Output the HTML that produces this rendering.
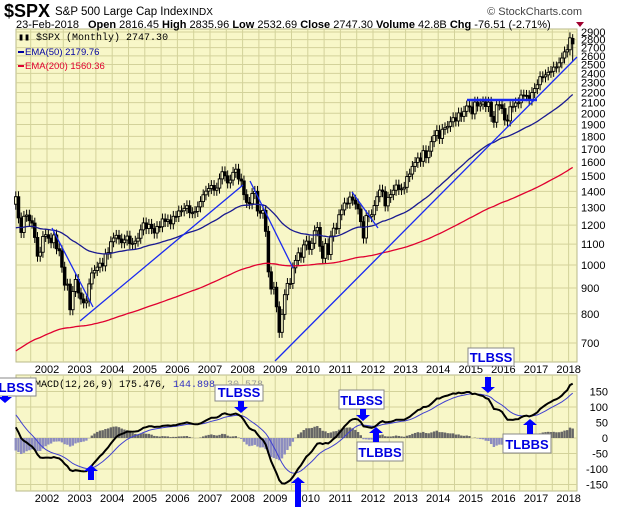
<!DOCTYPE html>
<html><head><meta charset="utf-8"><style>
body{margin:0;background:#fff;width:620px;height:507px;overflow:hidden;font-family:"Liberation Sans",sans-serif}
svg{position:absolute;left:0;top:0}
</style></head><body>
<svg id="s" width="620" height="507" xmlns="http://www.w3.org/2000/svg" font-family="Liberation Sans, sans-serif">
<rect x="16" y="29" width="561" height="333" fill="#f8f7c8" stroke="#b9b98a"/>
<rect x="16" y="375" width="561" height="116" fill="#f8f7c8" stroke="#b9b98a"/>
<g id="grid" stroke="#d3d29a" stroke-width="1"></g>
<g id="plot"></g>
<text x="4" y="17" font-size="18" font-weight="bold">$SPX</text>
<text x="55" y="15" font-size="11.5">S&amp;P 500 Large Cap Index</text>
<text x="189" y="15" font-size="10">INDX</text>
<text x="582" y="15" font-size="11" text-anchor="end" fill="#444">© StockCharts.com</text>
<text x="16" y="28" font-size="11"><tspan>23-Feb-2018</tspan><tspan x="88" font-weight="bold">Open</tspan><tspan> 2816.45 </tspan><tspan font-weight="bold">High</tspan><tspan> 2835.96 </tspan><tspan font-weight="bold">Low</tspan><tspan> 2532.69 </tspan><tspan font-weight="bold">Close</tspan><tspan> 2747.30 </tspan><tspan font-weight="bold">Volume</tspan><tspan> 42.8B </tspan><tspan font-weight="bold">Chg</tspan><tspan> -76.51 (-2.71%)</tspan></text>
<polygon points="576,22 584,22 580,27" fill="#a00030"/>
<text x="18" y="40" font-size="10" font-family="Liberation Mono, monospace">▮▮ $SPX (Monthly) 2747.30</text>
<line x1="18" y1="52" x2="24" y2="52" stroke="#0000a0" stroke-width="2"/>
<text x="25" y="55" font-size="9.5" fill="#0000a0">EMA(50) 2179.76</text>
<line x1="18" y1="66" x2="24" y2="66" stroke="#e00030" stroke-width="2"/>
<text x="25" y="69" font-size="9.5" fill="#e00030">EMA(200) 1560.36</text>
<g id="labels" font-size="11"></g>
<text x="35" y="387" font-size="10" font-family="Liberation Mono, monospace">MACD(12,26,9) 175.476,<tspan fill="#3030c0"> 144.898</tspan><tspan fill="#999">, 30.578</tspan></text>
<g id="ann"></g>
</svg>
<script>
var NS="http://www.w3.org/2000/svg";
function el(p,t,a,txt){var e=document.createElementNS(NS,t);for(var k in a)e.setAttribute(k,a[k]);if(txt!=null)e.textContent=txt;document.getElementById(p).appendChild(e);return e;}
function X(t){return 47+32.6*(t-2002);}
function Y(p){return 32+218.8*Math.log(2900/p);}
function MY(v){return 438-0.31*v;}
for(var t=2001.5;t<2018.3;t+=0.5){var x=X(t);if(x<17||x>576)continue;el("grid","line",{x1:x,y1:29,x2:x,y2:362});el("grid","line",{x1:x,y1:375,x2:x,y2:491});}
for(var p=700;p<=2900;p+=100){var y=Y(p);el("grid","line",{x1:16,y1:y,x2:577,y2:y});el("labels","text",{x:581,y:y+4},p);}
for(var v=-150;v<=150;v+=50){var y=MY(v);el("grid","line",{x1:16,y1:y,x2:577,y2:y});el("labels","text",{x:608,y:y+4,"text-anchor":"end"},v);}
for(var yr=2002;yr<=2018;yr++){el("labels","text",{x:X(yr),y:373,"text-anchor":"middle"},yr);el("labels","text",{x:X(yr),y:502,"text-anchor":"middle"},yr);}
var d=[1366,1240,1160,1249,1256,1224,1211,1134,1041,1060,1139,1148,
1130,1107,1147,1077,1067,990,912,916,815,886,936,880,
856,841,848,917,964,975,990,1008,996,1051,1058,1112,
1131,1145,1126,1107,1121,1141,1102,1104,1115,1130,1174,1212,
1181,1204,1181,1157,1192,1191,1234,1220,1229,1207,1249,1248,
1280,1281,1295,1311,1270,1270,1277,1304,1336,1378,1401,1418,
1438,1407,1421,1482,1531,1503,1455,1474,1527,1549,1481,1468,
1379,1331,1323,1386,1400,1280,1267,1283,1166,969,896,903,
826,735,798,873,919,919,987,1021,1057,1036,1096,1115,
1074,1104,1169,1187,1089,1031,1102,1049,1141,1183,1181,1258,
1286,1327,1326,1364,1345,1321,1292,1219,1131,1253,1247,1258,
1312,1366,1408,1398,1310,1362,1379,1407,1441,1412,1416,1426,
1498,1515,1569,1598,1631,1606,1686,1633,1682,1757,1806,1848,
1783,1859,1872,1884,1924,1960,1931,2003,1972,2018,2068,2059,
1995,2105,2068,2086,2107,2063,2104,1972,1920,2079,2080,2044,
1940,1932,2060,2065,2097,2099,2174,2171,2168,2126,2199,2239,
2279,2364,2363,2384,2412,2423,2470,2472,2519,2575,2648,2674,2824,2747];
var e50=1178,e200=668,e12=1420,e26=1378,sig=85;
var p50="",p200="",pm="",ps="",prev=1320;
for(var i=0;i<d.length;i++){
 var c=d[i],o=prev,x=X(2001+(i+0.5)/12);
 var hi=Math.max(o,c)*1.025,lo=Math.min(o,c)*0.975;
 if(i==d.length-1){hi=2872;lo=2532;o=2816;}
 el("plot","line",{x1:x,y1:Y(hi),x2:x,y2:Y(lo),stroke:"#000","stroke-width":1});
 var yt=Y(Math.max(o,c)),yb=Y(Math.min(o,c));
 el("plot","rect",{x:x-1.3,y:yt,width:2.6,height:Math.max(1,yb-yt),fill:c<o?"#000":"#f8f7c8",stroke:"#000","stroke-width":0.9});
 e50+=2/51*(c-e50);e200+=2/201*(c-e200);
 e12+=2/13*(c-e12);e26+=2/27*(c-e26);var m=e12-e26;sig+=0.2*(m-sig);
 p50+=(i?"L":"M")+x.toFixed(1)+","+Y(e50).toFixed(1);
 p200+=(i?"L":"M")+x.toFixed(1)+","+Y(e200).toFixed(1);
 pm+=(i?"L":"M")+x.toFixed(1)+","+MY(m).toFixed(1);
 ps+=(i?"L":"M")+x.toFixed(1)+","+MY(sig).toFixed(1);
 var h=m-sig;el("plot","rect",{x:x-1.2,y:Math.min(MY(h),438),width:2.4,height:Math.abs(0.31*h),fill:h>=0?"#666":"#8c8cc0"});
 prev=c;
}
el("plot","path",{d:p50,fill:"none",stroke:"#1a1a90","stroke-width":1.3});
el("plot","path",{d:p200,fill:"none",stroke:"#e00030","stroke-width":1.3});
el("plot","path",{d:ps,fill:"none",stroke:"#4040d0","stroke-width":1});
el("plot","path",{d:pm,fill:"none",stroke:"#000","stroke-width":2});
var L=[[52,228,93,307,1.3],[80,321,243,185,1.3],[250,181,293,268,1.3],[275,361,577,57,1.3],[352,192,378,228,1.3],[467,100,537,100,2.5]];
L.forEach(function(l){el("plot","line",{x1:l[0],y1:l[1],x2:l[2],y2:l[3],stroke:"#1a2af0","stroke-width":l[4]});});
function box(x,y,w,h,t){el("ann","rect",{x:x,y:y,width:w,height:h,fill:"#fff",stroke:"#888"});el("ann","text",{x:x+w/2,y:y+h-4,"text-anchor":"middle","font-size":13,"font-weight":"bold",fill:"#0000e0"},t);}
function down(x,y1,y2){el("ann","polygon",{points:[x-3,y1,x+3,y1,x+3,y2-6,x+7,y2-6,x,y2,x-7,y2-6,x-3,y2-6].join(" "),fill:"#0000ff"});}
function up(x,y1,y2){el("ann","polygon",{points:[x-3,y2,x+3,y2,x+3,y1+6,x+7,y1+6,x,y1,x-7,y1+6,x-3,y1+6].join(" "),fill:"#0000ff"});}
box(-12,378,48,18,"TLBSS");down(5,396,403);
box(215,385,48,16,"TLBSS");down(241,401,413);
up(91,465,480);up(298,477,507);
box(339,390,45,19,"TLBSS");down(363,409,421);
box(357,442,46,19,"TLBBS");up(376,427,442);
box(468,348,46,18,"TLBSS");down(488,377,393);
box(503,434,48,19,"TLBBS");up(530,419,434);
</script>
</body></html>
